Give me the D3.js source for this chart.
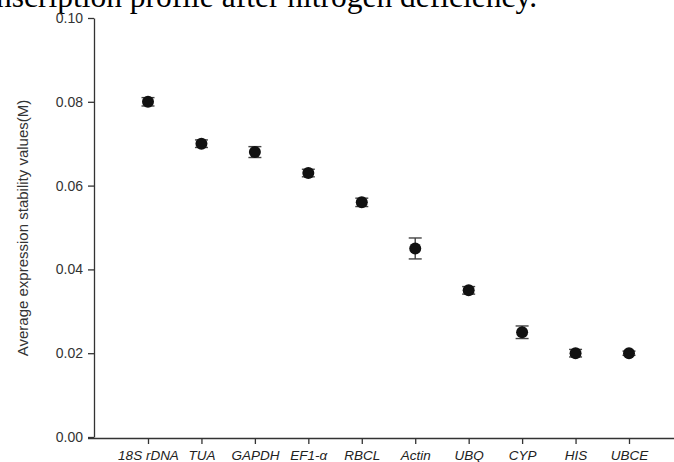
<!DOCTYPE html>
<html><head><meta charset="utf-8">
<script src="https://cdn.jsdelivr.net/npm/d3@7"></script>
<style>body{margin:0;background:#fff}svg{display:block}</style>
</head><body>
<svg id="c" width="674" height="462"></svg>
<script>
const genes = ["18S rDNA","TUA","GAPDH","EF1-α","RBCL","Actin","UBQ","CYP","HIS","UBCE"];
const mValues = [0.080,0.070,0.068,0.063,0.056,0.045,0.035,0.025,0.020,0.020];
const mErrors = [0.0010,0.0009,0.0013,0.0009,0.0010,0.0025,0.0009,0.0015,0.0009,0.0005];
const yTicks = [0.00,0.02,0.04,0.06,0.08,0.10];
const titleText = "nscription profile after nitrogen deficiency.";
const yLabel = "Average expression stability values(M)";

const svg = d3.select("#c");
const y = d3.scaleLinear().domain([0,0.10]).range([437,18]);
const x = d3.scalePoint().domain(genes).range([148,629]);

svg.append("text").attr("x",-4).attr("y",7)
  .style("font-family","'Liberation Serif','Times New Roman',serif")
  .style("font-size","31.5px").attr("fill","#000").text(titleText);

// Y axis
const yAxis = d3.axisLeft(y).tickValues(yTicks).tickFormat(d3.format(".2f")).tickSize(6).tickSizeOuter(0);
const gy = svg.append("g").attr("transform","translate(94,0)").call(yAxis);
gy.select(".domain").attr("stroke","#333").attr("stroke-width",1.3);
gy.selectAll(".tick line").attr("stroke","#333").attr("stroke-width",1.3);
gy.selectAll(".tick text").attr("x",-11)
  .style("font-family","'Liberation Sans',Arial,sans-serif").style("font-size","14px").attr("fill","#333");

// X axis
const xAxis = d3.axisBottom(x).tickSize(6).tickSizeOuter(0);
const gx = svg.append("g").attr("transform","translate(0,438)").call(xAxis);
gx.select(".domain").attr("d","M88,0.5H674").attr("stroke","#333").attr("stroke-width",1.3);
gx.selectAll(".tick line").attr("stroke","#333").attr("stroke-width",1.3);
gx.selectAll(".tick text").attr("y",12)
  .style("font-family","'Liberation Sans',Arial,sans-serif").style("font-size","13.5px")
  .style("font-style","italic").attr("fill","#222");

svg.append("text").attr("transform","translate(28,228) rotate(-90)")
  .attr("text-anchor","middle")
  .style("font-family","'Liberation Sans',Arial,sans-serif").style("font-size","15px")
  .attr("fill","#333").text(yLabel);

const data = genes.map((g,i)=>({g, v:mValues[i], e:mErrors[i]}));
const eg = svg.append("g").attr("stroke","#444").attr("stroke-width",1.4);
data.forEach(d=>{
  const cx = x(d.g), y1 = y(d.v+d.e), y2 = y(d.v-d.e);
  eg.append("line").attr("x1",cx).attr("x2",cx).attr("y1",y1).attr("y2",y2);
  eg.append("line").attr("x1",cx-6.5).attr("x2",cx+6.5).attr("y1",y1).attr("y2",y1);
  eg.append("line").attr("x1",cx-6.5).attr("x2",cx+6.5).attr("y1",y2).attr("y2",y2);
});
svg.append("g").selectAll("circle").data(data).join("circle")
  .attr("cx",d=>x(d.g)).attr("cy",d=>y(d.v)).attr("r",6).attr("fill","#111");
</script>
</body></html>
